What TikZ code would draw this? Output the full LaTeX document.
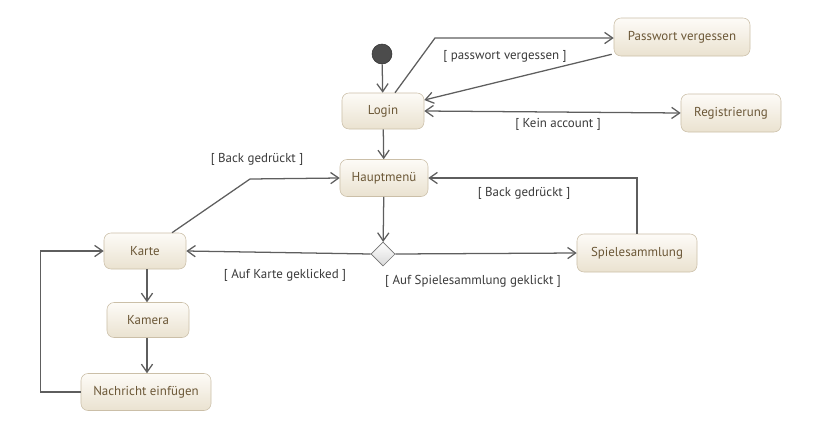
\documentclass[tikz,border=0pt]{standalone}
\usepackage{fontspec}
\setmainfont{PT Sans}
\usepackage{xcolor}
\usetikzlibrary{shapes.geometric,arrows.meta}
\definecolor{edgegray}{HTML}{5E5E5E}
\definecolor{boxborder}{HTML}{CBBFA8}
\definecolor{boxtop}{HTML}{FDFBF7}
\definecolor{boxbottom}{HTML}{EAE2D0}
\definecolor{boxtext}{HTML}{6B5736}
\definecolor{guardtext}{HTML}{3A3A3A}

\begin{document}
\begin{tikzpicture}[
        x=0.025cm, y=-0.025cm,
        >={Straight Barb[length=2mm,width=2.8mm]},
        state/.style={draw=boxborder, rounded corners=5pt, top color=boxtop,
            bottom color=boxbottom, text=boxtext, inner sep=0pt,
            font={\fontsize{9.2}{11}\selectfont}},
        guard/.style={fill=white, text=guardtext, inner sep=1pt,
            font={\fontsize{9.2}{11}\selectfont}},
        flow/.style={draw=edgegray, line width=0.9pt},
        ]
        \useasboundingbox (0,0) rectangle (816,436);

        % Start
        \node[circle, draw=black!80, fill=black!70, minimum size=0.5cm, inner sep=0pt]
            (start) at (382,54) {};

        % States
        \node[state, minimum width=2.05cm, minimum height=0.9cm] (login) at (383,111) {Login};
        \node[state, minimum width=3.4cm, minimum height=0.95cm] (pwd) at (682,37) {Passwort vergessen};
        \node[state, minimum width=2.5cm, minimum height=0.95cm] (reg) at (731,113) {Registrierung};
        \node[state, minimum width=2.2cm, minimum height=0.925cm] (menu) at (384,178) {Hauptmenü};
        \node[state, minimum width=2.05cm, minimum height=0.9cm] (karte) at (145,251) {Karte};
        \node[state, minimum width=2.05cm, minimum height=0.875cm] (kamera) at (148,320) {Kamera};
        \node[state, minimum width=3.25cm, minimum height=0.925cm] (nachricht) at (146,392) {Nachricht einfügen};
        \node[state, minimum width=3cm, minimum height=0.95cm] (spiel) at (637,253) {Spielesammlung};

        % Decision
        \node[diamond, draw=black!55, top color=white, bottom color=black!15,
            minimum width=0.6cm, minimum height=0.6cm, inner sep=0pt] (dec) at (383,254) {};

        % Bends
        \coordinate (bPwd) at (435,38);
        \coordinate (bBack) at (250,179);

        % Login part
        \draw[flow, ->] (start) -- (login);
        \draw[flow, ->] ([xshift=0.3cm]login.north) -- (bPwd) -- (pwd.west |- bPwd);
        \draw[flow, ->] ([xshift=-0.05cm, yshift=0.05cm]pwd.south west) -- ([yshift=0.275cm]login.east);
        \draw[flow, <->] (login.east) -- (reg.west);
        \draw[flow, ->] (login) -- (menu);

        % Main menu part
        \draw[flow, ->] ([xshift=0.675cm]karte.north) -- (bBack) -- (menu.west);
        \draw[flow, ->] (menu) -- (dec);
        \draw[flow, ->] (dec.west) -- (karte.east);
        \draw[flow, ->] (dec.east) -- (spiel.west);
        \draw[flow, ->] (spiel.north) |- (menu.east);

        % Map part
        \draw[flow, ->] (karte.south -| 147,0) -- (kamera.north -| 147,0);
        \draw[flow, ->] (kamera.south -| 147,0) -- (nachricht.north -| 147,0);
        \draw[flow, ->] (nachricht.west) -- ++(-40,0) |- (karte.west);

        % Guards
        \node[guard] (gPwd) at (505,56) {[ passwort vergessen ]};
        \node[guard] (gReg) at (558,124) {[ Kein account ]};
        \node[guard] (gBackL) at (257,159) {[ Back gedrückt ]};
        \node[guard] (gBackR) at (524,193) {[ Back gedrückt ]};
        \node[guard] (gKarte) at (285,275) {[ Auf Karte geklicked ]};
        \node[guard] (gSpiel) at (473,281) {[ Auf Spielesammlung geklickt ]};
    \end{tikzpicture}
\end{document}
